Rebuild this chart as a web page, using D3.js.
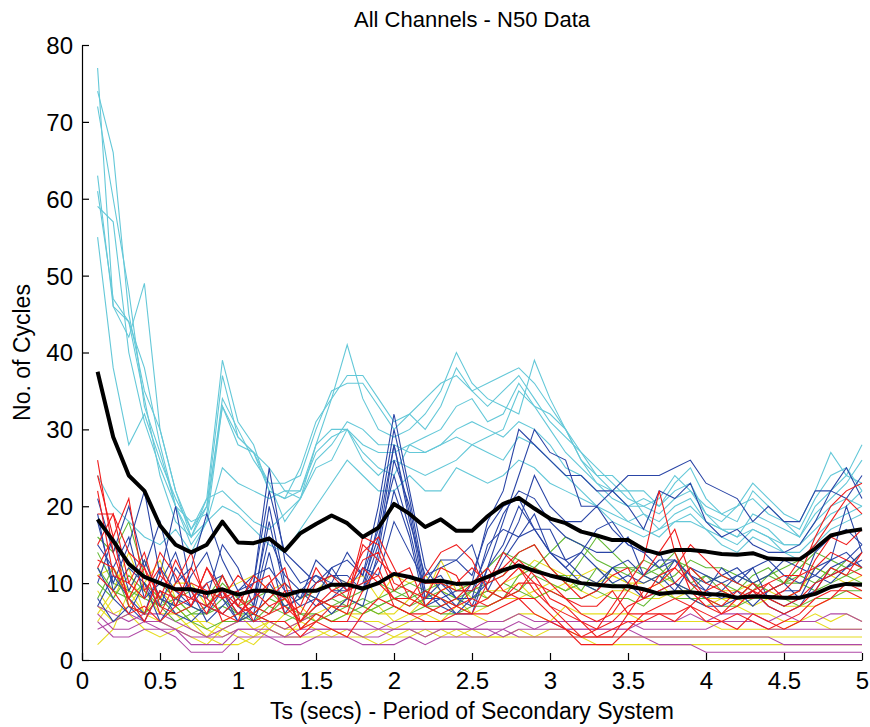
<!DOCTYPE html>
<html><head><meta charset="utf-8">
<script src="https://cdn.jsdelivr.net/npm/d3@7"></script>
<style>body{margin:0;background:#fff}svg{display:block}text{font-family:"Liberation Sans",Arial,sans-serif;fill:#000}</style>
</head><body>
<script>
// Period values Ts (0.1 .. 5.0, step 0.1)
const ts = [0.1,0.2,0.3,0.4,0.5,0.6,0.7,0.8,0.9,1.0,1.1,1.2,1.3,1.4,1.5,1.6,1.7,1.8,1.9,2.0,
2.1,2.2,2.3,2.4,2.5,2.6,2.7,2.8,2.9,3.0,3.1,3.2,3.3,3.4,3.5,3.6,3.7,3.8,3.9,4.0,
4.1,4.2,4.3,4.4,4.5,4.6,4.7,4.8,4.9,5.0];
const xTicks = [0,0.5,1,1.5,2,2.5,3,3.5,4,4.5,5];
const yTicks = [0,10,20,30,40,50,60,70,80];

const cyanSeries = [
[77,46,44,34,24,18,16,21,39,31, 28,22,21,25,31,34,41,34,30,29, 30,32,35,40,36,34,33,32,39,34, 30,26,24,24,22,22,20,23,25,21, 19,18,22,20,18,16,20,22,24,28],
[74,66,45,35,30,22,16,20,37,29, 27,22,21,22,28,34,37,37,34,31, 32,34,36,37,35,36,37,38,36,33, 30,27,25,23,21,20,21,24,22,20, 19,20,23,21,19,18,22,27,24,23],
[72,60,48,33,27,20,18,19,34,30, 26,23,23,24,30,35,36,36,33,30, 32,30,33,38,35,33,35,37,34,31, 29,27,24,22,20,21,20,22,23,19, 18,20,21,19,18,17,21,24,25,22],
[63,46,42,49,30,22,17,20,33,28, 27,23,18,21,28,30,30,28,27,27, 28,29,30,33,34,31,32,36,33,30, 27,25,23,21,20,20,19,21,22,19, 17,16,19,18,17,16,19,21,23,26],
[61,47,44,38,28,20,16,18,33,29, 27,25,22,21,26,28,31,30,28,28, 27,27,28,29,28,29,30,35,33,32, 30,26,23,22,22,19,18,20,21,18, 17,17,18,17,15,15,17,19,20,22],
[59,57,40,31,25,20,15,18,25,23, 22,21,22,22,27,29,30,27,25,24, 28,27,28,30,31,30,29,31,30,28, 25,24,22,20,18,19,17,18,19,17, 16,15,17,16,14,14,16,18,19,20],
[55,38,28,32,26,21,17,21,22,20, 18,17,19,21,25,26,30,26,24,26, 25,24,25,26,28,27,26,29,28,26, 24,22,20,19,18,17,16,18,18,17, 15,14,16,15,14,13,15,17,18,19],
[24,20,18,16,15,17,14,18,20,19, 17,15,14,17,20,23,26,24,22,22, 24,22,22,25,24,23,24,26,25,23, 22,21,20,18,17,16,17,19,20,18, 17,16,17,16,15,15,18,20,21,20]
];
const blueSeries = [
[21,14,20,12,18,10,12,19,13,9, 10,25,13,10,11,10,14,11,20,32, 22,12,9,7,10,18,22,30,28,26, 24,24,22,22,24,24,24,25,26,23, 22,21,18,20,18,18,22,22,25,21],
[18,10,15,22,11,20,9,8,15,12, 7,20,10,8,13,11,10,9,18,30, 21,10,11,8,7,12,18,24,30,27, 26,20,20,22,20,17,22,21,23,18, 16,17,15,14,14,15,18,22,21,24],
[12,8,6,10,5,8,7,6,9,6, 8,18,9,7,8,12,13,11,17,28, 18,11,12,13,11,17,20,21,17,14, 13,14,17,18,15,14,12,13,11,10, 11,12,10,11,13,12,11,10,12,13],
[8,5,7,5,9,6,5,7,9,5, 7,16,11,9,8,6,8,7,14,26, 20,9,7,6,8,15,17,16,19,14, 12,10,9,12,13,11,10,13,11,9, 8,9,7,9,10,8,9,12,13,15],
[15,12,16,8,10,14,8,7,6,8, 10,22,14,12,10,12,9,10,16,24, 17,8,8,9,9,14,19,22,21,18, 16,15,14,14,16,11,13,13,10,9, 12,10,12,8,9,9,14,16,17,15],
[10,16,9,13,8,7,11,14,8,5, 6,14,6,9,7,8,10,9,13,22, 16,7,8,6,6,12,15,20,17,17, 13,11,10,12,10,8,9,10,8,7, 7,8,9,7,6,7,10,11,12,14],
[19,9,12,10,7,12,9,5,7,9, 11,12,9,9,11,9,9,12,11,18, 14,10,13,13,15,9,13,16,17,14, 12,14,12,10,11,10,11,9,12,11, 10,11,12,13,11,10,11,13,14,12],
[7,11,8,6,12,9,7,10,11,7, 5,10,7,8,10,11,11,9,15,28, 19,8,10,8,8,10,14,18,24,20, 18,18,20,17,15,14,14,10,9,8, 9,11,10,8,7,8,12,13,20,14]
];
const redSeries = [
[26,14,8,12,6,10,14,7,9,6, 8,10,12,5,7,9,8,16,15,10, 9,8,12,11,7,8,10,12,9,7, 5,3,4,7,10,13,22,14,9,7, 6,8,10,8,9,11,16,20,22,23],
[24,16,21,9,12,7,12,8,6,5, 10,11,6,7,12,9,10,14,16,12, 8,11,14,15,13,9,8,9,12,10, 8,6,5,6,9,11,14,17,11,8, 7,9,8,9,10,13,15,18,21,19],
[15,19,10,8,14,11,7,12,9,7, 6,8,10,4,5,7,7,15,13,11, 12,7,9,10,12,10,11,13,11,8, 7,5,3,3,6,9,10,12,10,8, 6,7,9,10,8,9,13,16,15,17],
[13,12,8,5,9,8,10,9,8,11, 9,7,8,6,10,11,9,13,14,9, 11,10,10,9,9,11,12,14,15,12, 10,8,9,11,12,8,9,10,12,10, 9,8,8,10,11,11,12,14,13,12],
[19,19,14,12,8,13,9,6,11,7, 11,9,8,5,8,7,6,12,10,8, 7,9,8,7,6,10,14,12,10,9, 8,7,7,9,6,6,7,8,7,9, 10,8,9,7,6,7,9,12,11,14],
[12,16,7,6,11,9,8,10,5,6, 7,6,9,4,6,5,5,9,12,7, 6,6,7,8,10,12,9,8,8,6, 4,2,2,2,4,6,6,5,7,6, 5,4,6,5,4,5,7,8,10,9],
[22,11,10,14,7,6,7,12,8,9, 5,6,7,5,7,8,9,10,11,8, 8,7,6,7,8,7,8,10,10,7, 6,5,4,5,7,8,11,12,15,13, 11,10,9,8,7,8,10,11,12,11],
[11,9,6,7,5,7,8,7,6,8, 6,5,5,3,5,4,3,6,8,7, 6,5,5,6,6,6,7,8,6,5, 4,3,3,4,5,5,6,6,7,5, 5,6,5,4,5,6,8,9,9,8]
];
const greenSeries = [
[16,14,18,11,10,8,9,8,11,7, 8,9,7,8,9,10,8,9,10,9, 8,9,10,9,10,12,14,13,12,14, 16,15,13,12,11,13,12,14,10,11, 10,9,11,12,10,12,14,13,12,14],
[14,10,9,8,7,8,6,7,10,8, 7,6,8,9,8,7,8,7,8,9, 10,9,8,7,9,10,11,14,15,12, 10,13,16,14,12,12,11,13,12,10, 11,10,9,11,12,13,12,11,13,12],
[10,8,11,9,7,5,6,6,7,6, 5,7,6,5,7,8,7,6,7,8, 7,8,9,8,8,9,8,11,12,11, 11,9,12,10,9,11,12,10,9,11, 9,8,10,9,10,10,9,10,11,10],
[8,12,7,6,8,7,5,4,5,5, 6,5,5,6,6,5,6,7,6,7, 6,7,6,6,7,7,8,9,8,9, 8,8,9,8,8,7,9,8,8,8, 7,7,8,8,8,7,8,8,9,9],
[12,9,8,10,8,6,7,6,8,6, 6,8,7,6,5,6,7,8,7,8, 9,7,7,8,9,8,10,9,11,10, 9,10,9,12,12,11,10,11,13,12, 12,11,10,11,10,11,10,12,11,12]
];
const yellowSeries = [
[2,4,9,6,5,4,5,3,2,2, 3,4,3,5,4,3,4,3,2,3, 4,3,4,3,4,3,3,3,3,3, 3,3,2,2,2,2,2,2,2,2, 2,2,2,2,2,2,2,2,2,2],
[5,8,12,6,9,7,5,5,4,5, 6,4,6,7,5,6,8,7,6,6, 8,7,9,8,6,7,8,8,9,10, 9,11,10,11,10,9,10,8,9,8, 8,7,6,6,5,5,6,5,6,5],
[9,6,7,10,13,8,6,4,3,4, 3,5,4,4,6,5,6,5,5,4, 5,6,5,7,6,5,5,6,6,5, 7,6,6,6,6,5,5,5,5,5, 4,4,4,4,4,5,5,4,4,4],
[6,9,14,9,6,6,4,3,5,6, 4,5,4,5,6,7,6,6,7,5, 6,8,13,9,10,8,10,11,13,12, 11,11,12,11,10,10,11,10,8,7, 8,8,7,8,7,7,7,8,8,8],
[11,12,9,13,8,10,10,7,9,10, 11,9,10,8,9,11,10,11,8,11, 10,11,9,10,8,9,9,10,8,9, 10,9,8,9,9,8,8,9,9,8, 9,9,10,9,8,9,12,11,10,11],
[7,5,6,4,3,4,3,2,4,3, 2,4,3,3,3,4,3,3,4,3, 3,4,3,4,3,3,3,4,3,4, 4,3,3,3,3,3,3,3,3,3, 3,3,3,3,3,3,3,3,3,3]
];
const magentaSeries = [
[5,3,3,4,4,3,1,1,1,3, 3,3,2,2,3,3,3,2,2,2, 3,2,3,3,3,3,4,3,3,3, 3,3,3,3,3,3,2,2,2,1, 1,1,1,1,1,1,1,1,1,1],
[6,4,4,5,4,4,2,2,2,4, 4,4,3,4,4,4,4,3,3,4, 4,4,4,4,4,4,4,5,4,4, 4,4,4,4,4,3,3,3,3,3, 3,3,3,3,2,2,2,2,2,2],
[7,6,5,6,6,5,4,3,4,5, 5,5,4,5,6,5,5,5,4,5, 5,5,5,5,4,5,5,6,5,5, 5,5,5,5,5,4,4,4,4,4, 5,5,5,4,4,4,4,4,4,4],
[4,5,6,5,5,4,3,3,3,4, 4,3,3,3,4,4,4,4,4,4, 4,3,4,4,4,4,3,4,4,5, 4,4,4,4,4,5,5,5,6,5, 6,6,6,5,6,5,5,6,6,5]
];
const meanPlus = [37.5,29,24,22,17.5,15,14,15,18,15.3, 15.2,15.8,14.2,16.5,17.7,18.8,17.8,16,17.2,20.3, 19,17.3,18.3,16.8,16.8,18.7,20.3,21.1,19.7,18.4, 17.8,16.7,16.2,15.6,15.6,14.4,13.8,14.3,14.3,14.1, 13.8,13.7,13.9,13.2,13.1,13.1,14.5,16.2,16.7,17];
const meanLine = [18.3,15.5,12.5,10.8,10,9.2,9.2,8.7,9.2,8.5, 9,9,8.4,9,9,9.8,9.8,9.3,10,11.2, 10.8,10.2,10.3,9.9,10,10.8,11.7,12.3,11.6,11, 10.5,10,9.8,9.6,9.6,9.2,8.6,8.8,8.8,8.6, 8.5,8.1,8.3,8.2,8.1,8.1,8.6,9.5,9.9,9.8];

const W = 870, H = 727;
const m = {left:82, right:862, top:45, bottom:660};
const x = d3.scaleLinear().domain([0,5]).range([m.left, m.right]);
const y = d3.scaleLinear().domain([0,80]).range([m.bottom, m.top]);

const svg = d3.select("body").append("svg").attr("width", W).attr("height", H);
const line = d3.line().x((d,i)=>x(ts[i])).y(d=>y(d));

const groups = [
  {data: yellowSeries, color:"#e6dc1e"},
  {data: magentaSeries, color:"#b048a6"},
  {data: greenSeries, color:"#62b832"},
  {data: cyanSeries, color:"#64c8d8"},
  {data: blueSeries, color:"#2a45a6"},
  {data: redSeries, color:"#f01c1c"}
];
groups.forEach(g => {
  svg.append("g").selectAll("path").data(g.data).join("path")
    .attr("d", line).attr("fill","none").attr("stroke", g.color).attr("stroke-width",1.1);
});
[meanPlus, meanLine].forEach(s => {
  svg.append("path").attr("d", line(s)).attr("fill","none")
    .attr("stroke","#000").attr("stroke-width",4).attr("stroke-linejoin","round");
});

// axes
const xAxis = d3.axisBottom(x).tickValues(xTicks).tickSizeInner(-7).tickSizeOuter(0).tickPadding(12)
  .tickFormat(d=>String(d));
const yAxis = d3.axisLeft(y).tickValues(yTicks).tickSizeInner(-7).tickSizeOuter(0).tickPadding(9)
  .tickFormat(d=>String(d));
const gx = svg.append("g").attr("transform",`translate(0,${m.bottom})`).call(xAxis);
const gy = svg.append("g").attr("transform",`translate(${m.left},0)`).call(yAxis);
[gx, gy].forEach(g=>{
  g.select(".domain").attr("stroke","#000").attr("stroke-width",1.2);
  g.selectAll(".tick line").attr("stroke","#000").attr("stroke-width",1.2);
  g.selectAll(".tick text").style("font-size","24px").style("font-family",'"Liberation Sans",Arial,sans-serif').attr("fill","#000");
});
gy.selectAll(".tick text").attr("dy","0.35em");
gx.selectAll(".tick text").attr("dy","0.72em");

svg.append("text").attr("x", (m.left+m.right)/2).attr("y", 27).attr("text-anchor","middle")
  .style("font-size","22px").text("All Channels - N50 Data");
svg.append("text").attr("x", (m.left+m.right)/2).attr("y", 719).attr("text-anchor","middle")
  .style("font-size","23px").text("Ts (secs) - Period of Secondary System");
svg.append("text").attr("transform",`translate(30,${(m.top+m.bottom)/2}) rotate(-90)`).attr("text-anchor","middle")
  .style("font-size","23px").text("No. of Cycles");
</script>
</body></html>
